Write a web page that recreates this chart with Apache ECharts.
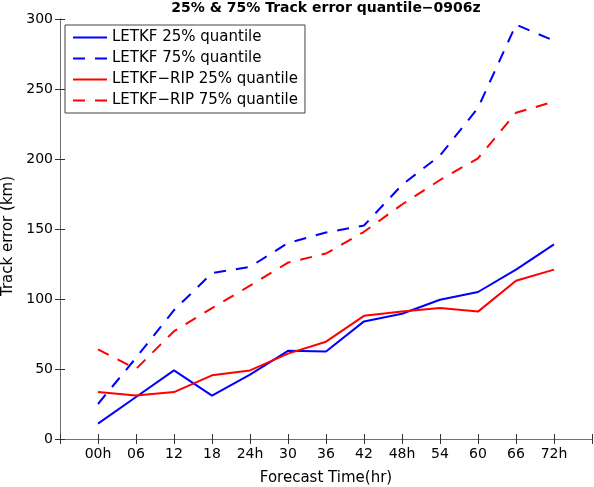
<!DOCTYPE html>
<html>
<head>
<meta charset="utf-8">
<script src="https://cdn.jsdelivr.net/npm/echarts@6/dist/echarts.min.js"></script>
<style>
  html, body { margin: 0; padding: 0; background: #fff; }
  #chart { width: 594px; height: 487px; }
</style>
</head>
<body>
<div id="chart"></div>
<script>
// forecast lead times (x categories)
const hours = ['00h', '06', '12', '18', '24h', '30', '36', '42', '48h', '54', '60', '66', '72h']
const yTicks = [0, 50, 100, 150, 200, 250, 300]

// track error quantiles (km)
const letkf25 = [11, 30, 49, 31, 46, 63, 62.5, 84, 89.5, 99.5, 105, 121, 139]
const letkf75 = [25, 58, 92, 118.5, 123, 140, 147.5, 152.5, 181.5, 202.5, 236.5, 296, 284.5]
const rip25 = [33.5, 31, 33.5, 45.5, 49, 61, 69.5, 88, 91, 93.5, 91, 113, 121]
const rip75 = [64, 50, 77, 93.5, 109.5, 126, 132.5, 148, 167.5, 185, 200.5, 233, 241]

const font = "'DejaVu Sans', Verdana, sans-serif"
const axisGrey = '#6e6e6e'
const dash = [12, 10]

const toPoints = vals => vals.map((v, i) => [i + 1, v])

function makeSeries(name, vals, color, type) {
  return {
    name: name,
    type: 'line',
    data: toPoints(vals),
    symbol: 'none',
    showSymbol: false,
    lineStyle: { color: color, width: 2, type: type },
    itemStyle: { color: color },
    animation: false
  }
}

const xLabel = v => hours[v - 1] || ''

const option = {
  backgroundColor: '#fff',
  textStyle: { fontFamily: font },
  title: {
    text: '25% & 75% Track error quantile\u22120906z',
    left: 326,
    textAlign: 'center',
    top: 1,
    padding: 0,
    textStyle: { fontFamily: font, fontSize: 14, fontWeight: 'bold', color: '#000' }
  },
  grid: { left: 60, right: 2, top: 19, bottom: 48, containLabel: false, outerBoundsMode: 'none' },
  legend: {
    orient: 'vertical',
    left: 65,
    top: 25,
    padding: [5, 7, 5, 7],
    itemGap: 6,
    itemWidth: 34,
    itemHeight: 14,
    itemStyle: { opacity: 0 },
    backgroundColor: '#fff',
    borderColor: '#444',
    borderWidth: 1,
    borderRadius: 0,
    textStyle: { fontFamily: font, fontSize: 15, color: '#000' },
    data: ['LETKF 25% quantile', 'LETKF 75% quantile', 'LETKF\u2212RIP 25% quantile', 'LETKF\u2212RIP 75% quantile']
  },
  xAxis: [
    {
      type: 'value',
      min: 0,
      max: 14,
      interval: 1,
      name: 'Forecast Time(hr)',
      nameLocation: 'middle',
      nameGap: 32,
      nameTextStyle: { fontFamily: font, fontSize: 15, color: '#000' },
      axisLine: { show: true, lineStyle: { color: axisGrey, width: 1 } },
      axisTick: { inside: true, length: 5, lineStyle: { color: '#333' } },
      axisLabel: { formatter: xLabel, fontSize: 14, color: '#000', margin: 8, fontFamily: font },
      splitLine: { show: false }
    },
    {
      type: 'value',
      position: 'top',
      min: 0,
      max: 14,
      interval: 1,
      axisLine: { show: true, lineStyle: { color: axisGrey, width: 1 } },
      axisTick: { inside: true, length: 5, lineStyle: { color: '#333' } },
      axisLabel: { show: false },
      splitLine: { show: false }
    }
  ],
  yAxis: [
    {
      type: 'value',
      min: yTicks[0],
      max: yTicks[yTicks.length - 1],
      interval: 50,
      name: 'Track error (km)',
      nameLocation: 'middle',
      nameGap: 41,
      nameTextStyle: { fontFamily: font, fontSize: 15, color: '#000', padding: [0, 14, 0, 0] },
      axisLine: { show: true, lineStyle: { color: axisGrey, width: 1 } },
      axisTick: { show: true, inside: true, length: 5, lineStyle: { color: '#333' } },
      axisLabel: { fontSize: 14, color: '#000', margin: 7, fontFamily: font },
      splitLine: { show: false }
    },
    {
      type: 'value',
      position: 'right',
      min: yTicks[0],
      max: yTicks[yTicks.length - 1],
      interval: 50,
      axisLine: { show: true, lineStyle: { color: axisGrey, width: 1 } },
      axisTick: { show: true, inside: true, length: 5, lineStyle: { color: '#333' } },
      axisLabel: { show: false },
      splitLine: { show: false }
    }
  ],
  series: [
    makeSeries('LETKF 25% quantile', letkf25, '#0000ff', 'solid'),
    makeSeries('LETKF 75% quantile', letkf75, '#0000ff', dash),
    makeSeries('LETKF\u2212RIP 25% quantile', rip25, '#ff0000', 'solid'),
    makeSeries('LETKF\u2212RIP 75% quantile', rip75, '#ff0000', dash)
  ]
}

const myChart = echarts.init(document.getElementById('chart'))
myChart.setOption(option)
</script>
</body>
</html>
